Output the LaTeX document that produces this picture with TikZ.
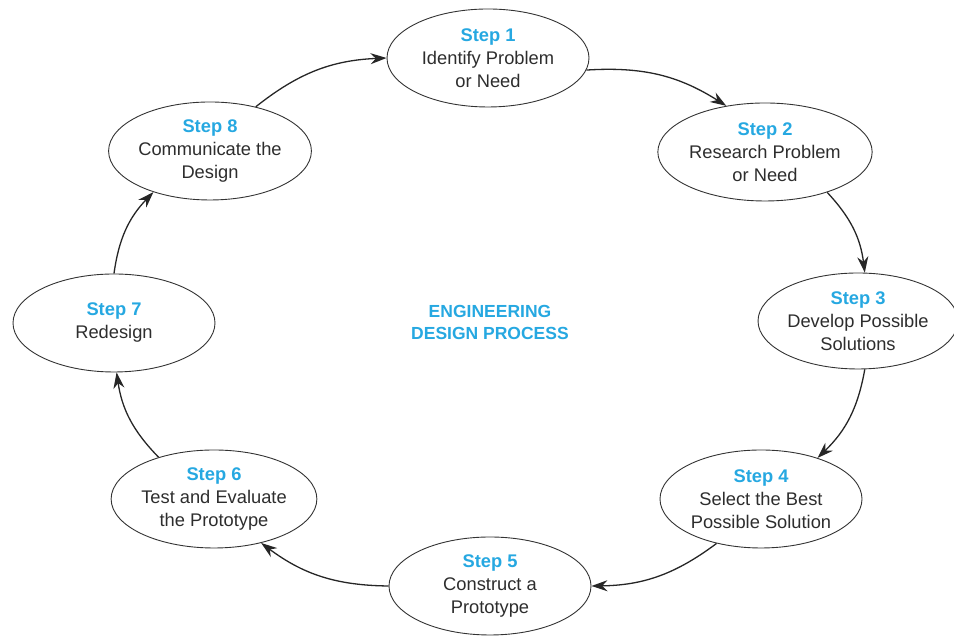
\documentclass[tikz,border=0pt]{standalone}
\usepackage{fontspec}
\setmainfont{Liberation Sans}
\usetikzlibrary{shapes.geometric,arrows.meta}
\definecolor{stepcyan}{RGB}{38,168,225}
\definecolor{txtgray}{RGB}{45,45,45}
\begin{document}
\begin{tikzpicture}[x=1pt,y=1pt,
  stepnode/.style={ellipse, draw=black!80, line width=0.9pt, minimum width=202pt, minimum height=98pt, inner sep=0pt, align=center, text=txtgray, font=\fontsize{18.3}{23}\selectfont},
  flow/.style={line width=1.3pt, black!85, -{Stealth[length=16pt,width=11pt]}, bend left=18}
]
\useasboundingbox (0,0) rectangle (954,636);
\newcommand{\stp}[1]{\textcolor{stepcyan}{\bfseries Step #1}}
\node[stepnode] (s1) at (488,578) {\stp{1}\\Identify Problem\\or Need};
\node[stepnode] (s2) at (765,484) {\stp{2}\\Research Problem\\or Need};
\node[stepnode, minimum width=190pt, minimum height=96pt] (s3) at (858,315) {\stp{3}\\Develop Possible\\Solutions};
\node[stepnode] (s4) at (761,137) {\stp{4}\\Select the Best\\Possible Solution};
\node[stepnode] (s5) at (490,50) {\stp{5}\\Construct a\\Prototype};
\node[stepnode] (s6) at (214,137) {\stp{6}\\Test and Evaluate\\the Prototype};
\node[stepnode] (s7) at (114,313) {\stp{7}\\Redesign};
\node[stepnode] (s8) at (210,485) {\stp{8}\\Communicate the\\Design};
\node[align=center, text=stepcyan, font=\fontsize{17.5}{22}\selectfont\bfseries] (title) at (490,314) {ENGINEERING\\DESIGN PROCESS};
\draw[flow] (s1.-7) to (s2.130);
\draw[flow] (s2.-33) to (s3.82);
\draw[flow] (s3.-82) to (s4.36);
\draw[flow] (s4.-135) to (s5.0);
\draw[flow] (s5.180) to (s6.-43);
\draw[flow] (s6.143) to (s7.-87);
\draw[flow] (s7.90) to (s8.-144);
\draw[flow] (s8.44) to (s1.180);
\end{tikzpicture}
\end{document}
